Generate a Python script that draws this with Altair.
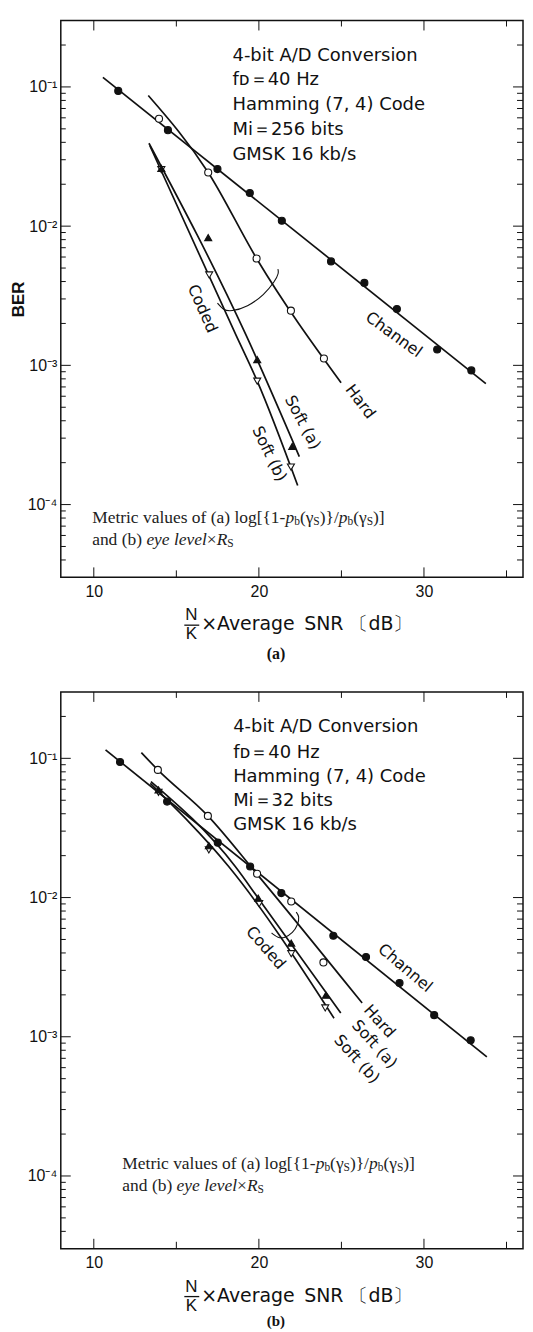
import altair as alt
import pandas as pd

W, H = 464, 559
X_DOMAIN = [8, 36]
Y_DOMAIN = [3e-5, 0.3]
PX_PER_DB = W / (X_DOMAIN[1] - X_DOMAIN[0])
SANS = "DejaVu Sans"
NUM = "Liberation Sans"
SERIF = "Liberation Serif"
INK = "#111111"

# ---------------- panel (a) : Mi = 256 bits ----------------
a_channel_x = [11.48, 14.49, 17.49, 19.45, 21.39, 24.37, 26.39, 28.36, 30.80, 32.87]
a_channel_y = [0.0936, 0.0489, 0.0257, 0.0173, 0.01094, 0.00558, 0.00391, 0.00254, 0.00130, 0.00092]
a_hard_x = [13.95, 16.93, 19.86, 21.94, 23.94]
a_hard_y = [0.0591, 0.0243, 0.00586, 0.00247, 0.00112]
a_softa_x = [14.09, 16.93, 19.90, 22.02]
a_softa_y = [0.0260, 0.00828, 0.00110, 0.000262]
a_softb_x = [14.09, 16.99, 19.90, 21.94]
a_softb_y = [0.0255, 0.00446, 0.00077, 0.000186]
# drawn curves
a_channel_fit_x = [10.55, 33.75]
a_channel_fit_y = [0.117, 0.00074]
a_hard_fit_x = [13.30, 16.93, 19.86, 24.98]
a_hard_fit_y = [0.0868, 0.0243, 0.00586, 0.00075]
a_softa_fit_x = [13.34, 19.21, 22.45]
a_softa_fit_y = [0.0394, 0.00166, 0.000221]
a_softb_fit_x = [13.40, 18.60, 19.90, 22.35]
a_softb_fit_y = [0.0377, 0.00166, 0.00077, 0.000137]
# bracket grouping the coded curves
a_brace_x = [17.49, 17.82, 18.30, 19.31, 20.32, 20.98, 21.21, 21.15]
a_brace_y = [0.0028, 0.00251, 0.00243, 0.00263, 0.00321, 0.00403, 0.0046, 0.00492]
# curve labels
a_lab_text = ["Coded", "Channel", "Hard", "Soft (a)", "Soft (b)"]
a_lab_x = [16.58, 28.17, 26.14, 22.65, 20.63]
a_lab_y = [0.00255, 0.00166, 0.000548, 0.000389, 0.000231]
a_lab_angle = [66, 36, 53, 62, 64]
a_info = ["4-bit A/D Conversion", "f\u1d05\uff1d40 Hz", "Hamming (7, 4) Code",
          "Mi\uff1d256 bits", "GMSK  16 kb/s"]
a_info_x = 18.40
a_info_y = [0.1656, 0.1117, 0.0736, 0.0491, 0.0326]
a_note_x = 9.9
a_note_y = [7.94e-5, 5.56e-5]

# ---------------- panel (b) : Mi = 32 bits ----------------
b_channel_x = [11.59, 14.44, 17.51, 19.47, 21.36, 24.51, 26.49, 28.52, 30.62, 32.83]
b_channel_y = [0.0942, 0.0489, 0.0248, 0.0167, 0.01076, 0.00532, 0.00374, 0.00243, 0.00143, 0.000944]
b_hard_x = [13.88, 16.91, 19.89, 21.96, 23.91]
b_hard_y = [0.0826, 0.0386, 0.01483, 0.00937, 0.00342]
b_softa_x = [13.92, 16.97, 19.96, 21.96, 24.06]
b_softa_y = [0.0593, 0.0236, 0.0099, 0.00471, 0.00199]
b_softb_x = [13.92, 16.97, 20.02, 21.96, 24.02]
b_softb_y = [0.0570, 0.0220, 0.00903, 0.00395, 0.00161]
b_channel_fit_x = [10.71, 33.81]
b_channel_fit_y = [0.115, 0.000716]
b_hard_fit_x = [12.88, 13.88, 16.91, 19.87, 26.25]
b_hard_fit_y = [0.1099, 0.0826, 0.0386, 0.0148, 0.00175]
b_softa_fit_x = [13.46, 18.57, 19.96, 24.96]
b_softa_fit_y = [0.068, 0.0167, 0.0099, 0.00148]
b_softb_fit_x = [13.42, 18.17, 24.55]
b_softb_fit_y = [0.066, 0.0167, 0.00136]
b_brace_x = [20.77, 21.16, 21.56, 22.06, 22.36, 22.46, 22.26]
b_brace_y = [0.00556, 0.00512, 0.00512, 0.00556, 0.00638, 0.00731, 0.00785]
b_lab_text = ["Coded", "Channel", "Hard", "Soft (a)", "Soft (b)"]
b_lab_x = [20.42, 28.86, 27.30, 27.00, 25.93]
b_lab_y = [0.00434, 0.00312, 0.00129, 0.000883, 0.00069]
b_lab_angle = [49, 40, 48, 48, 48]
b_info = ["4-bit A/D Conversion", "f\u1d05\uff1d40 Hz", "Hamming (7, 4) Code",
          "Mi\uff1d32 bits", "GMSK  16 kb/s"]
b_info_x = 18.44
b_info_y = [0.1688, 0.1099, 0.0740, 0.0494, 0.0333]
b_note_x = 11.73
b_note_y = [1.21e-4, 8.47e-5]

# axis ticks
x_major = [10, 20, 30]
x_minor = [15, 25, 35]
y_major = [1e-4, 1e-3, 1e-2, 1e-1]
y_minor = [m * 10.0 ** e for e in range(-5, 0) for m in range(2, 10)
           if 3.05e-5 < m * 10.0 ** e < 0.295]

SERIES = ["Hard", "Soft (b)", "Channel", "Soft (a)"]
SHAPES = ["circle", "triangle-down", "circle", "triangle-up"]
FILLS = ["white", "white", INK, INK]

# Liberation Serif (Times metrics) advance widths, per 1000 em
REG_W = {" ": 250, "M": 889, "e": 444, "t": 278, "r": 333, "i": 278, "c": 444, "v": 500,
         "a": 444, "l": 278, "u": 500, "s": 389, "o": 500, "f": 333, "(": 333, ")": 333,
         "g": 500, "[": 333, "]": 333, "{": 480, "}": 480, "1": 500, "-": 333, "/": 278,
         "n": 500, "d": 500, "b": 500, "\u00d7": 564, "S": 556, "\u03b3": 440}
ITA_W = {"p": 500, "e": 444, "y": 444, " ": 250, "l": 278, "v": 444, "R": 611}
NOTE_FS = 17.5
SUB_FS = 11.5
NOTE_LINE1 = [("Metric values of (a) log[{1-", "r"), ("p", "i"), ("b", "s"), ("(\u03b3", "r"),
              ("S", "s"), (")}/", "r"), ("p", "i"), ("b", "s"), ("(\u03b3", "r"), ("S", "s"),
              (")]", "r")]
NOTE_LINE2 = [("and (b) ", "r"), ("eye level", "i"), ("\u00d7", "r"), ("R", "i"), ("S", "s")]


def seg_width(text, style):
    if style == "s":
        return sum(REG_W.get(c, 500) for c in text) * SUB_FS / 1000.0
    table = ITA_W if style == "i" else REG_W
    return sum(table.get(c, 500) for c in text) * NOTE_FS / 1000.0


def note_frame(x0, ys):
    rows = []
    for segs, yv in zip([NOTE_LINE1, NOTE_LINE2], ys):
        off = 0.0
        for txt, st in segs:
            rows.append({"x": x0 + off / PX_PER_DB, "y": yv, "t": txt, "st": st})
            off += seg_width(txt, st)
    return pd.DataFrame(rows)


def panel(P, ytitle, caption, cap_dy, cap_fs):
    xs = alt.Scale(domain=X_DOMAIN, nice=False, zero=False)
    ys = alt.Scale(type="log", domain=Y_DOMAIN, nice=False)
    xaxis = alt.Axis(values=x_major, title=None, ticks=False, domain=False, grid=False,
                     labelFont=NUM, labelFontSize=16, labelColor=INK, labelPadding=6,
                     labelFlush=False)
    yax = dict(values=y_major, ticks=False, domain=False, grid=False,
               labelFont=NUM, labelFontSize=16, labelColor=INK, labelPadding=4,
               labelFlush=False,
               labelExpr="'10' + (datum.value < 5e-4 ? '\u207b\u2074' : datum.value < 5e-3 ? "
                         "'\u207b\u00b3' : datum.value < 5e-2 ? '\u207b\u00b2' : '\u207b\u00b9')")
    if ytitle:
        yaxis = alt.Axis(title=ytitle, titleFont=NUM, titleFontSize=17, titleFontWeight="bold",
                         titleColor=INK, titlePadding=0, **yax)
    else:
        yaxis = alt.Axis(title=None, **yax)

    def X(f):
        return alt.X(f, type="quantitative", scale=xs, axis=xaxis)

    def Y(f):
        return alt.Y(f, type="quantitative", scale=ys, axis=yaxis)

    fits = pd.concat([
        pd.DataFrame({"x": P["channel_fit_x"], "y": P["channel_fit_y"], "s": "Channel"}),
        pd.DataFrame({"x": P["hard_fit_x"], "y": P["hard_fit_y"], "s": "Hard"}),
        pd.DataFrame({"x": P["softa_fit_x"], "y": P["softa_fit_y"], "s": "Soft (a)"}),
        pd.DataFrame({"x": P["softb_fit_x"], "y": P["softb_fit_y"], "s": "Soft (b)"}),
    ])
    pts = pd.concat([
        pd.DataFrame({"x": P["hard_x"], "y": P["hard_y"], "s": "Hard"}),
        pd.DataFrame({"x": P["softb_x"], "y": P["softb_y"], "s": "Soft (b)"}),
        pd.DataFrame({"x": P["channel_x"], "y": P["channel_y"], "s": "Channel"}),
        pd.DataFrame({"x": P["softa_x"], "y": P["softa_y"], "s": "Soft (a)"}),
    ])
    brace = pd.DataFrame({"x": P["brace_x"], "y": P["brace_y"], "i": range(len(P["brace_x"]))})
    labs = pd.DataFrame({"x": P["lab_x"], "y": P["lab_y"], "t": P["lab_text"], "a": P["lab_angle"]})
    info = pd.DataFrame({"x": [P["info_x"]] * len(P["info"]), "y": P["info_y"], "t": P["info"]})
    note = note_frame(P["note_x"], P["note_y"])

    lines = alt.Chart(fits).mark_line(color=INK, strokeWidth=1.7, interpolate="monotone").encode(
        x=X("x"), y=Y("y"), detail="s:N")
    marks = alt.Chart(pts).mark_point(size=50, strokeWidth=1.1, opacity=1, fillOpacity=1).encode(
        x=X("x"), y=Y("y"),
        shape=alt.Shape("s:N", scale=alt.Scale(domain=SERIES, range=SHAPES), legend=None),
        fill=alt.Fill("s:N", scale=alt.Scale(domain=SERIES, range=FILLS), legend=None),
        stroke=alt.value(INK))
    br = alt.Chart(brace).mark_line(color=INK, strokeWidth=1.1, interpolate="basis").encode(
        x=X("x"), y=Y("y"), order="i:Q")
    lab = alt.Chart(labs).mark_text(font=SANS, fontSize=16, color=INK, align="center",
                                    baseline="middle").encode(
        x=X("x"), y=Y("y"), text="t:N", angle=alt.Angle("a:Q", scale=None))
    inf = alt.Chart(info).mark_text(font=SANS, fontSize=18, color=INK, align="left",
                                    baseline="middle").encode(x=X("x"), y=Y("y"), text="t:N")
    nreg = alt.Chart(note).transform_filter("datum.st == 'r'").mark_text(
        font=SERIF, fontSize=NOTE_FS, color="#222", align="left", baseline="middle").encode(
        x=X("x"), y=Y("y"), text="t:N")
    nita = alt.Chart(note).transform_filter("datum.st == 'i'").mark_text(
        font=SERIF, fontSize=NOTE_FS, fontStyle="italic", color="#222", align="left",
        baseline="middle").encode(x=X("x"), y=Y("y"), text="t:N")
    nsub = alt.Chart(note).transform_filter("datum.st == 's'").mark_text(
        font=SERIF, fontSize=SUB_FS, color="#222", align="left", baseline="middle", dy=4).encode(
        x=X("x"), y=Y("y"), text="t:N")

    def xticks(vals, y0, y1):
        return alt.Chart(pd.DataFrame({"x": vals})).mark_rule(color=INK, strokeWidth=1).encode(
            x=X("x"), y=alt.value(y0), y2=alt.value(y1))

    def yticks(vals, x0, x1):
        return alt.Chart(pd.DataFrame({"y": vals})).mark_rule(color=INK, strokeWidth=1).encode(
            y=Y("y"), x=alt.value(x0), x2=alt.value(x1))

    ticks = [xticks(x_major, 0, 10), xticks(x_minor, 0, 6),
             xticks(x_major, H, H - 10), xticks(x_minor, H, H - 7),
             yticks(y_major, 0, 10), yticks(y_minor, 0, 5),
             yticks(y_major, W, W - 10), yticks(y_minor, W, W - 6)]

    one = pd.DataFrame({"k": [0]})
    frac_n = alt.Chart(one).mark_text(font=NUM, fontSize=17, color=INK, text="N").encode(
        x=alt.value(131), y=alt.value(H + 38))
    frac_k = alt.Chart(one).mark_text(font=NUM, fontSize=17, color=INK, text="K").encode(
        x=alt.value(131), y=alt.value(H + 57))
    frac_bar = alt.Chart(one).mark_rule(color=INK, strokeWidth=1.3).encode(
        x=alt.value(124), x2=alt.value(139), y=alt.value(H + 48))
    xtitle = alt.Chart(one).mark_text(font=SANS, fontSize=19, color=INK, align="left",
                                      text="\u00d7Average\u2002SNR \u3014dB\u3015").encode(
        x=alt.value(141), y=alt.value(H + 47))
    cap = alt.Chart(one).mark_text(font=SERIF, fontSize=cap_fs, fontWeight="bold", color=INK,
                                   text=caption).encode(x=alt.value(216), y=alt.value(H + cap_dy))

    return alt.layer(lines, br, marks, lab, inf, nreg, nita, nsub, *ticks,
                     frac_n, frac_k, frac_bar, xtitle, cap).properties(width=W, height=H)


def pack(prefix):
    g = globals()
    keys = ["channel_x", "channel_y", "hard_x", "hard_y", "softa_x", "softa_y", "softb_x",
            "softb_y", "channel_fit_x", "channel_fit_y", "hard_fit_x", "hard_fit_y",
            "softa_fit_x", "softa_fit_y", "softb_fit_x", "softb_fit_y", "brace_x", "brace_y",
            "lab_text", "lab_x", "lab_y", "lab_angle", "info", "info_x", "info_y",
            "note_x", "note_y"]
    return {k: g[prefix + k] for k in keys}


pa = panel(pack("a_"), "BER", "(a)", 77, 16)
pb = panel(pack("b_"), None, "(b)", 73, 15)

chart = alt.vconcat(pa, pb, spacing=27).properties(
    padding={"left": 0, "top": 8, "right": 0, "bottom": 0}
).configure_view(stroke=INK, strokeWidth=1.5)

chart.save("out.html", embed_options={"renderer": "svg", "actions": False})
